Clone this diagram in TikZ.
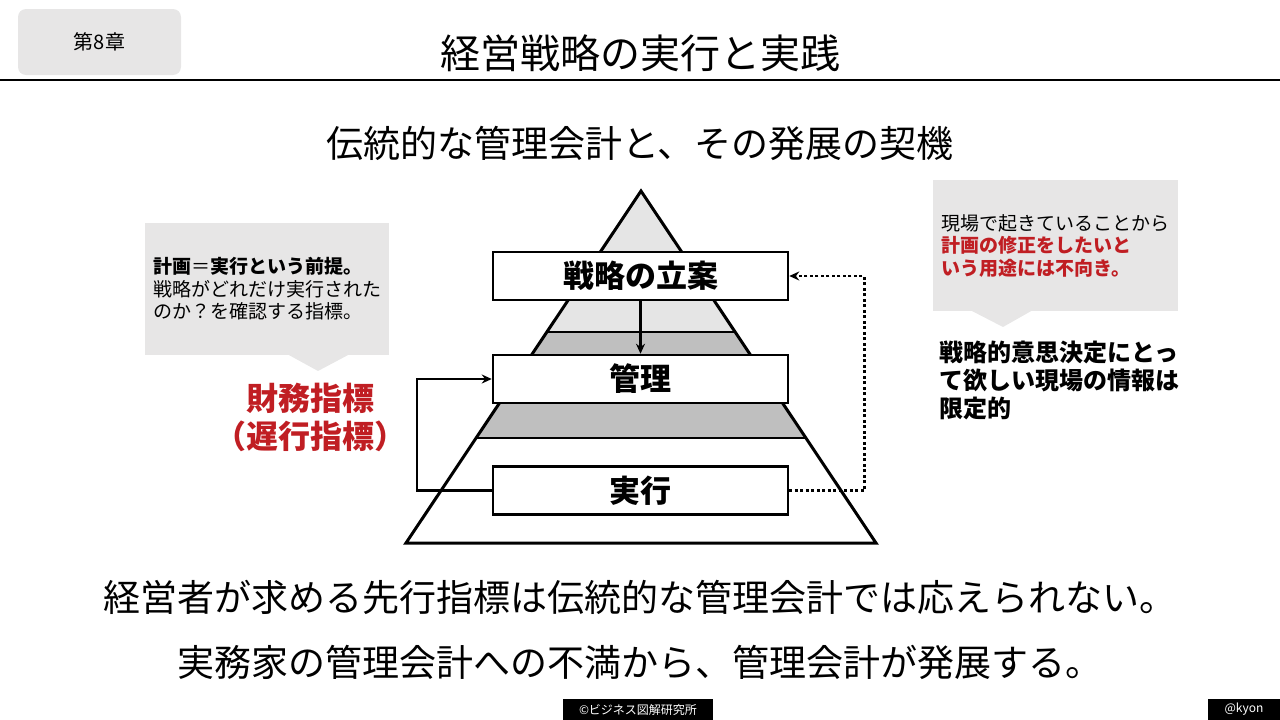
\documentclass[tikz,border=0pt]{standalone}
\usepackage{fontspec}
\setmainfont{Noto Sans CJK JP}
\usetikzlibrary{arrows.meta}

\definecolor{notegray}{RGB}{231,230,230}
\definecolor{pyrlight}{RGB}{229,229,229}
\definecolor{pyrdark}{RGB}{191,191,191}
\definecolor{alertred}{RGB}{192,30,35}

\tikzstyle{stagebox} = [draw, fill=white, line width=2.5pt, minimum width=295pt, minimum height=48pt, font=\fontsize{31}{36}\selectfont\bfseries]
\tikzstyle{notebox} = [fill=notegray, align=left, font=\fontsize{19}{22.5}\selectfont]
\tikzstyle{lagtext} = [align=center, text=alertred, font=\fontsize{32}{38}\selectfont\bfseries]
\tikzstyle{bigline} = [font=\fontsize{37}{44}\selectfont]
\tikzstyle{footer} = [fill=black, text=white, minimum height=21pt, inner sep=0pt, font=\fontsize{12}{14}\selectfont]
\tikzstyle{flow} = [->, line width=2.5pt]

\begin{document}
\begin{tikzpicture}[>={Stealth[length=10pt, width=9pt]}, x=1pt, y=-1pt]
    \useasboundingbox (0,0) rectangle (1280,720);

    % header
    \node at (99.5,42) [fill=notegray, rounded corners=8pt, minimum width=163pt, minimum height=66pt, font=\fontsize{20}{24}\selectfont] (chap) {第8章};
    \node at (640,53) [font=\fontsize{40}{48}\selectfont] (title) {経営戦略の実行と実践};
    \draw [line width=1.5pt] (0,80) -- (1280,80);
    \node at (640,143) [bigline] (subtitle) {伝統的な管理会計と、その発展の契機};

    % pyramid
    \begin{scope}
        \clip (641,191) -- (876,543) -- (406,543) -- cycle;
        \fill [pyrlight] (400,185) rectangle (880,332);
        \fill [pyrdark] (400,332) rectangle (880,438);
        \draw [line width=2.5pt] (400,332) -- (880,332);
        \draw [line width=2.5pt] (400,438) -- (880,438);
    \end{scope}
    \draw [line width=3pt] (641,191) -- (876,543) -- (406,543) -- cycle;

    \node at (640.5,276) [stagebox] (plan) {戦略の立案};
    \node at (640.5,379) [stagebox] (control) {管理};
    \node at (640.5,490.5) [stagebox] (execute) {実行};

    \draw [flow] (plan) -- (control);
    \draw [flow] (execute.west) -- ++(-75,0) |- (control.west);
    \draw [flow, dash pattern=on 3pt off 2.5pt] (execute.east) -- ++(75,0) |- (plan.east);

    % left note
    \node at (267,289) [notebox, minimum width=244pt, minimum height=132pt] (leftnote) {\textbf{計画}＝\textbf{実行という前提。}\\戦略がどれだけ実行された\\のか？を確認する指標。};
    \fill [notegray] (287,354) -- (350,354) -- (318,371) -- cycle;
    \node at (310,417) [lagtext] (lagging) {財務指標\\（遅行指標）};

    % right note
    \node at (1055.5,245.5) [notebox, minimum width=245pt, minimum height=131pt] (rightnote) {現場で起きていることから\\\textcolor{alertred}{\textbf{計画の修正をしたいと}}\\\textcolor{alertred}{\textbf{いう用途には不向き。}}};
    \fill [notegray] (970,310) -- (1033,310) -- (1003,327) -- cycle;
    \node at (939,380) [anchor=west, inner sep=0pt, align=left, font=\fontsize{24}{28}\selectfont\bfseries] (limited) {戦略的意思決定にとっ\\て欲しい現場の情報は\\限定的};

    % conclusions
    \node at (640,597) [bigline] (leading) {経営者が求める先行指標は伝統的な管理会計では応えられない。};
    \node at (640,662) [bigline] (growth) {実務家の管理会計への不満から、管理会計が発展する。};

    % footer
    \node at (638,709.5) [footer, minimum width=150pt] (credit) {©ビジネス図解研究所};
    \node at (1244,709.5) [footer, minimum width=72pt] (handle) {@kyon};

\end{tikzpicture}
\end{document}
